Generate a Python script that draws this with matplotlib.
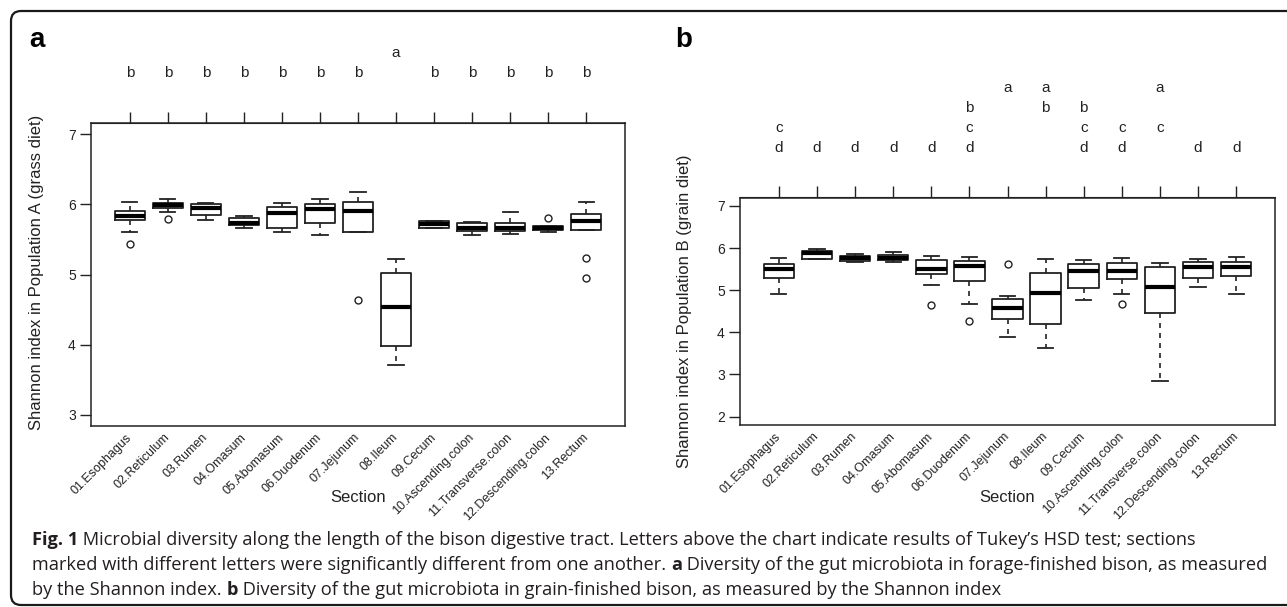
import matplotlib
matplotlib.use("Agg")
import matplotlib.pyplot as plt
import numpy as np
from matplotlib.patches import FancyBboxPatch

sections = ["01.Esophagus", "02.Reticulum", "03.Rumen", "04.Omasum", "05.Abomasum",
            "06.Duodenum", "07.Jejunum", "08.Ileum", "09.Cecum", "10.Ascending.colon",
            "11.Transverse.colon", "12.Descending.colon", "13.Rectum"]

# population A (grass diet)
a_whishi = [6.03, 6.08, 6.02, 5.83, 6.02, 6.08, 6.18, 5.22, 5.76, 5.75, 5.89, 5.69, 6.03]
a_q3 = [5.91, 6.02, 6.00, 5.81, 5.96, 6.00, 6.04, 5.02, 5.76, 5.73, 5.74, 5.69, 5.86]
a_med = [5.84, 5.99, 5.95, 5.74, 5.88, 5.94, 5.90, 4.54, 5.72, 5.66, 5.66, 5.66, 5.76]
a_q1 = [5.77, 5.95, 5.85, 5.71, 5.67, 5.74, 5.61, 3.98, 5.67, 5.62, 5.62, 5.64, 5.63]
a_whislo = [5.61, 5.89, 5.78, 5.67, 5.61, 5.57, 5.61, 3.71, 5.67, 5.57, 5.58, 5.60, 5.63]
a_fliers = [[5.44], [5.79], [], [], [], [], [4.63], [], [], [], [], [5.81], [5.23, 4.95]]
a_letters = ["b", "b", "b", "b", "b", "b", "b", "a", "b", "b", "b", "b", "b"]

# population B (grain diet)
b_whishi = [5.77, 5.98, 5.85, 5.90, 5.80, 5.78, 4.86, 5.75, 5.72, 5.76, 5.64, 5.75, 5.79]
b_q3 = [5.61, 5.92, 5.81, 5.83, 5.72, 5.69, 4.80, 5.41, 5.63, 5.64, 5.55, 5.67, 5.67]
b_med = [5.51, 5.89, 5.76, 5.77, 5.50, 5.58, 4.58, 4.94, 5.46, 5.45, 5.07, 5.55, 5.55]
b_q1 = [5.28, 5.75, 5.69, 5.71, 5.38, 5.21, 4.32, 4.20, 5.06, 5.27, 4.45, 5.29, 5.33]
b_whislo = [4.91, 5.75, 5.68, 5.66, 5.13, 4.67, 3.90, 3.63, 4.77, 4.91, 2.85, 5.07, 4.92]
b_fliers = [[], [], [], [], [4.65], [4.28], [5.61], [], [], [4.68], [], [], []]
b_letters = ["cd", "d", "d", "d", "d", "bcd", "a", "ab", "bcd", "cd", "ac", "d", "d"]

caption = [
    [("Fig. 1", "bold"), (" Microbial diversity along the length of the bison digestive tract. Letters above the chart indicate results of Tukey\u2019s HSD test; sections", "normal")],
    [("marked with different letters were significantly different from one another. ", "normal"), ("a", "bold"),
     (" Diversity of the gut microbiota in forage-finished bison, as measured", "normal")],
    [("by the Shannon index. ", "normal"), ("b", "bold"),
     (" Diversity of the gut microbiota in grain-finished bison, as measured by the Shannon index", "normal")],
]

W, H = 1287, 607
plt.rcParams["font.family"] = ["Liberation Sans", "DejaVu Sans"]
ink = "#222222"

fig = plt.figure(figsize=(W / 100, H / 100), dpi=100)

# background axes in pixel units for the frame, labels and caption
bg = fig.add_axes([0, 0, 1, 1], zorder=-1)
bg.set_xlim(0, W)
bg.set_ylim(H, 0)
bg.axis("off")
bg.add_patch(FancyBboxPatch((11, 11), 1320, 594, boxstyle="round,pad=0,rounding_size=10",
                            fill=False, lw=1.6, ec="#1a1a1a"))


def px_rect(left, top, right, bottom):
    return [left / W, 1 - bottom / H, (right - left) / W, (bottom - top) / H]


def panel(rect, whislo, q1, med, q3, whishi, fliers, letters, ylim, yticks, base):
    ax = fig.add_axes(rect)
    pos = np.arange(1, len(sections) + 1)
    stats = []
    for i in range(len(sections)):
        stats.append(dict(whislo=whislo[i], q1=q1[i], med=med[i], q3=q3[i],
                          whishi=whishi[i], fliers=fliers[i]))
    ax.bxp(stats, positions=pos, widths=0.8, capwidths=0.4, manage_ticks=False,
           boxprops=dict(color=ink, lw=1.3),
           whiskerprops=dict(color=ink, lw=1.2, ls=(0, (3, 3))),
           capprops=dict(color=ink, lw=1.3),
           medianprops=dict(color="black", lw=3),
           flierprops=dict(marker="o", mfc="none", mec=ink, ms=5, mew=1))
    ax.set_xlim(-0.02, 14.02)
    ax.set_ylim(*ylim)
    ax.set_yticks(yticks)
    ax.set_xticks(pos)
    ax.set_xticklabels(sections, rotation=45, ha="right", va="center",
                       rotation_mode="anchor", fontsize=9, color=ink)
    ax.tick_params(axis="x", length=0, pad=7)
    ax.tick_params(axis="y", length=8, width=1, pad=3, labelsize=10,
                   colors=ink)
    for s in ax.spines.values():
        s.set_color(ink)
        s.set_linewidth(1.1)
    top = ax.secondary_xaxis("top")
    top.set_xticks(pos)
    top.set_xticklabels([])
    top.tick_params(length=8, width=1, color=ink)
    top.spines["top"].set_color(ink)
    maxl = max(max(s) for s in letters)
    for x, lab in zip(pos, letters):
        for ch in lab:
            k = ord(maxl) - ord(ch)
            ax.annotate(ch, xy=(x, 1), xycoords=("data", "axes fraction"),
                        xytext=(0, base + 20 * k), textcoords="offset pixels",
                        ha="center", va="center", fontsize=11, color=ink)
    return ax


panel(px_rect(91, 123, 625, 426), a_whislo, a_q1, a_med, a_q3, a_whishi, a_fliers,
      a_letters, (2.84, 7.16), [3, 4, 5, 6, 7], 50)
panel(px_rect(740, 197.5, 1275, 425), b_whislo, b_q1, b_med, b_q3, b_whishi, b_fliers,
      b_letters, (1.8, 7.2), [2, 3, 4, 5, 6, 7], 49.5)

bg.text(37, 40, "a", fontsize=20, fontweight="bold", ha="center", va="center")
bg.text(684, 40, "b", fontsize=20, fontweight="bold", ha="center", va="center")
bg.text(37, 272, "Shannon index in Population A (grass diet)", rotation=90,
        ha="center", va="center", fontsize=12, color=ink)
bg.text(685, 311.5, "Shannon index in Population B (grain diet)", rotation=90,
        ha="center", va="center", fontsize=12, color=ink)
bg.text(358, 497, "Section", ha="center", va="center", fontsize=12, color=ink)
bg.text(1007.5, 497, "Section", ha="center", va="center", fontsize=12, color=ink)

# caption, written run by run so the bold parts sit inline
renderer = fig.canvas.get_renderer()


def caption_line(line, yb, size):
    x = 32
    texts = []
    for txt, wt in line:
        t = bg.text(x, yb, txt, fontsize=size, fontweight=wt, va="baseline", ha="left",
                    family=["Open Sans", "DejaVu Sans"], color="#231f20")
        x += t.get_window_extent(renderer).width
        texts.append(t)
    return texts, x


# size the caption so the second line ends where the reference one does
probe, end = caption_line(caption[1], 570, 11)
for t in probe:
    t.remove()
size = 11 * (1272 - 32) / (end - 32)

for line, yb in zip(caption, [545, 570, 595]):
    caption_line(line, yb, size)

fig.savefig("out.png", dpi=100)
